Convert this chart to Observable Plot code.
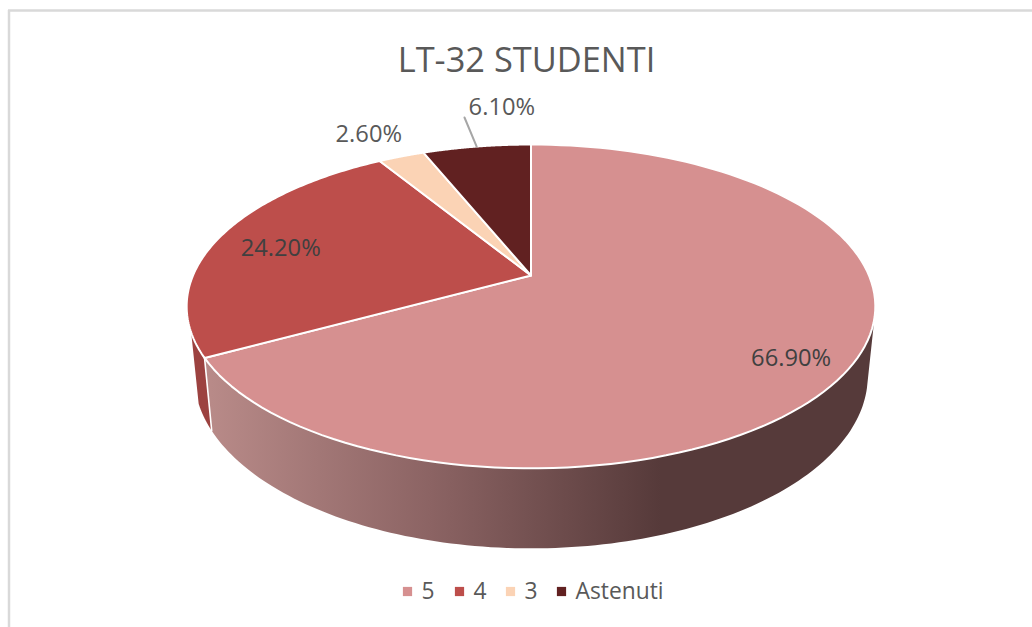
<!DOCTYPE html>
<html><head><meta charset="utf-8">
<script src="https://cdn.jsdelivr.net/npm/d3@7"></script>
<script src="https://cdn.jsdelivr.net/npm/@observablehq/plot@0.6"></script>
<style>html,body{margin:0;padding:0;background:#fff;overflow:hidden}</style>
</head><body><div id="chart"></div>
<script>
const chartTitle = "LT-32 STUDENTI";
const categories = ["5", "4", "3", "Astenuti"];
const values = [66.9, 24.2, 2.6, 6.1];
const labels = ["66.90%", "24.20%", "2.60%", "6.10%"];
const colors = ["#d69090", "#bd4e4b", "#fbd3b5", "#612121"];

const W = 1032, H = 627;
const total = d3.sum(values);
// perspective projection of the pie disc (true angle, radius) to the page
const cx = 530.5, cy = 275, a = 338, b = 156, k = 0.191;
const upper = (deg, r = 1) => {
  const t = deg * Math.PI / 180, u = Math.sin(t) * r, w = Math.cos(t) * r, d = 1 + k * w;
  return [cx + a * u / d, cy - b * w / d];
};
const lower = (deg) => {
  const [x, y] = upper(deg);
  return [cx + (x - cx) * 0.978, cy + (y - cy) * 1.065 + 67.5];
};
const arc = (f, from, to) => d3.range(0, 121).map(i => f(from + (to - from) * i / 120));

let acc = 0;
const slices = values.map((v, i) => {
  const start = acc / total * 360; acc += v;
  const end = acc / total * 360;
  return {cat: categories[i], label: labels[i], start, end, mid: (start + end) / 2};
});
const toRows = (key, pts) => pts.map(([x, y]) => ({key, x, y}));

const faces = slices.flatMap(s => toRows(s.cat, [[cx, cy], ...arc(upper, s.start, s.end), [cx, cy]]));
const s0 = slices[0], s1 = slices[1];
const wall0 = toRows("w0", [...arc(upper, 105, s0.end), ...arc(lower, s0.end, 105), upper(105)]);
const wall1 = toRows("w1", [...arc(upper, s1.start, 250), ...arc(lower, 250, s1.start), upper(s1.start)]);
const seam = toRows("seam", [upper(s0.end), lower(s0.end)]);

// label placement: radial fraction on the disc plus a small nudge
const place = [
  {r: 0.82, dx: 1, dy: 12, fill: "#404040"},
  {r: 0.79, dx: -2, dy: 4, fill: "#404040"},
  {r: 1.05, dx: -27, dy: -17, fill: "#595959"},
  {r: 1.27, dx: 37, dy: -11, fill: "#595959"}
];
const labelRows = slices.map((s, i) => {
  const [x, y] = upper(s.mid, place[i].r);
  return {label: s.label, x: x + place[i].dx, y: y + place[i].dy, fill: place[i].fill};
});
const leader = toRows("leader", [upper(slices[3].mid), [464, 117]]);

const legendX = [407, 459, 510, 561];
const legendRows = categories.map((c, i) => ({cat: c, x: legendX[i], y: 591}));

const font = "'Open Sans', sans-serif";
const defs = () => {
  const ns = "http://www.w3.org/2000/svg";
  const d = document.createElementNS(ns, "defs");
  const g = document.createElementNS(ns, "linearGradient");
  g.setAttribute("id", "wallGrad");
  g.setAttribute("gradientUnits", "userSpaceOnUse");
  g.setAttribute("x1", 205); g.setAttribute("x2", 660);
  g.setAttribute("y1", 0); g.setAttribute("y2", 0);
  for (const [o, c] of [[0, "#b98b89"], [0.5, "#8b6363"], [1, "#563a3a"]]) {
    const st = document.createElementNS(ns, "stop");
    st.setAttribute("offset", o); st.setAttribute("stop-color", c);
    g.appendChild(st);
  }
  d.appendChild(g);
  return d;
};

const plot = Plot.plot({
  width: W, height: H, margin: 0,
  x: {domain: [0, W], range: [0, W], axis: null},
  y: {domain: [0, H], range: [0, H], axis: null},
  color: {domain: categories, range: colors},
  style: {background: "#fff", fontFamily: font},
  marks: [
    defs,
    Plot.ruleY([10], {x1: 8, x2: W, stroke: "#d9d9d9", strokeWidth: 2.5}),
    Plot.ruleX([8.5], {y1: 10, y2: H, stroke: "#d9d9d9", strokeWidth: 2.5}),
    Plot.line(wall1, {x: "x", y: "y", fill: "#9c4240", stroke: "none", curve: "linear"}),
    Plot.line(wall0, {x: "x", y: "y", fill: "url(#wallGrad)", stroke: "none", curve: "linear"}),
    Plot.line(seam, {x: "x", y: "y", stroke: "#fff", strokeWidth: 1.6}),
    Plot.line(faces, {x: "x", y: "y", z: "key", fill: "key", stroke: "#fff", strokeWidth: 2, strokeLinejoin: "round"}),
    Plot.line(leader, {x: "x", y: "y", stroke: "#a6a6a6", strokeWidth: 2}),
    Plot.text(labelRows, {x: "x", y: "y", text: "label", fill: d => d.fill, fontSize: 23.7}),
    Plot.text([chartTitle], {x: () => 526, y: () => 60, text: d => d, fill: "#595959", fontSize: 34.4}),
    Plot.dot(legendRows, {x: "x", y: "y", fill: "cat", symbol: "square", r: 5.2, stroke: "none"}),
    Plot.text(legendRows, {x: d => d.x + 14, y: "y", text: "cat", textAnchor: "start", fill: "#595959", fontSize: 22.8})
  ]
});
document.getElementById("chart").appendChild(plot);
</script></body></html>
